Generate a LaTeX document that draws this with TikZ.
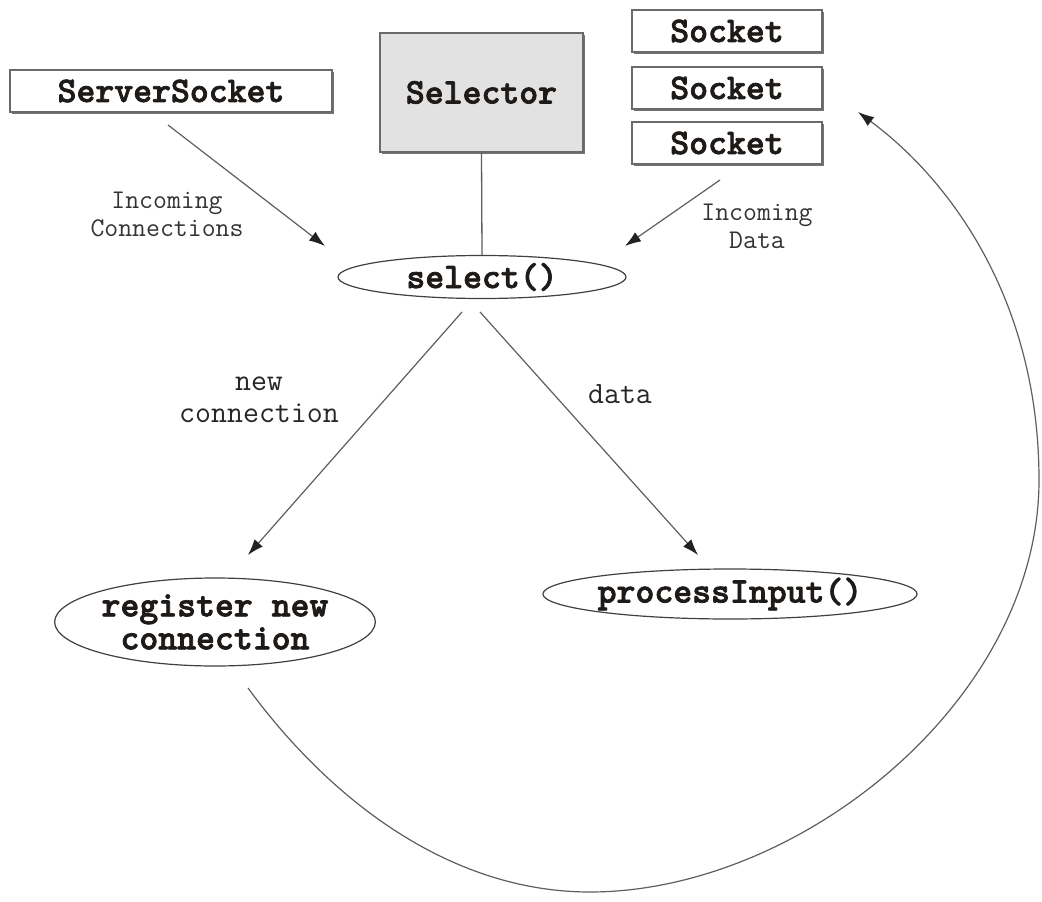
\documentclass[tikz,border=0pt]{standalone}
\usepackage{fontspec}
\usetikzlibrary{arrows.meta,shapes.geometric,shadows}

% heavy slab typewriter face for the boxes, plain one for the edge labels
\newfontfamily\heavytt[FakeBold=2]{lmmonolt10-bold.otf}
\newcommand\boxfont{\heavytt\fontsize{36}{36}\selectfont}
\newcommand\smallnote{\ttfamily\fontsize{27}{28}\selectfont}
\newcommand\edgenote{\ttfamily\fontsize{31}{32}\selectfont}

\definecolor{lineclr}{HTML}{5E5E5E}
\definecolor{tipclr}{HTML}{222222}
\definecolor{boxline}{HTML}{6A6A6A}
\definecolor{selfill}{HTML}{E2E2E2}
\definecolor{txtclr}{HTML}{1E1A18}

\begin{document}
\begin{tikzpicture}[x=1pt,y=-1pt,
  objbox/.style={draw=boxline, line width=1.3pt, fill=white, inner sep=0pt,
    font=\boxfont, text=txtclr,
    drop shadow={shadow xshift=1.6pt, shadow yshift=-1.6pt, fill=black!55, opacity=1}},
  callnode/.style={ellipse, draw=black!75, line width=1.2pt, fill=white, inner sep=0pt,
    font=\boxfont, text=txtclr, align=center},
  flow/.style={draw=lineclr, line width=1.2pt,
    -{Latex[length=16pt,width=11pt,color=tipclr]}},
  link/.style={draw=lineclr, line width=1.3pt},
  note/.style={font=\smallnote, text=black!80, align=center, inner sep=0pt},
  enote/.style={font=\edgenote, text=black!85, align=center, inner sep=0pt}
]
\useasboundingbox (0,0) rectangle (1042,902);

% sources of events
\node[objbox, minimum width=322pt, minimum height=42pt] (ss) at (171,91) {ServerSocket};
\node[objbox, fill=selfill, minimum width=203pt, minimum height=119pt] (sel) at (481.5,92.5) {Selector};
\node[objbox, minimum width=190pt, minimum height=42pt] (sk1) at (727,31) {Socket};
\node[objbox, minimum width=190pt, minimum height=42pt] (sk2) at (727,88) {Socket};
\node[objbox, minimum width=190pt, minimum height=42pt] (sk3) at (727,143) {Socket};

% the select loop
\node[callnode, minimum width=288pt, minimum height=43pt] (select) at (482,277) {select()};
\node[callnode, minimum width=270pt, minimum height=88pt,
  font=\heavytt\fontsize{36}{33}\selectfont]
  (reg) at (215,622) {register new\\connection};
\node[callnode, minimum width=350pt, minimum height=50pt] (proc) at (730,594) {processInput()};

% free ends of the arrows
\coordinate (ssOut)   at (168,125);
\coordinate (selInL)  at (325,246);
\coordinate (skOut)   at (720,180);
\coordinate (selInR)  at (625,246);
\coordinate (selOutL) at (462,312);
\coordinate (regIn)   at (248,555);
\coordinate (selOutR) at (480,312);
\coordinate (procIn)  at (698,555);
\coordinate (loopStart) at (248,688);
\coordinate (loopEnd)   at (858,112);

% connectors
\draw[link] (sel.south) -- (select.north);
\draw[flow] (ssOut) -- (selInL);
\draw[flow] (skOut) -- (selInR);
\draw[flow] (selOutL) -- (regIn);
\draw[flow] (selOutR) -- (procIn);
\draw[flow] (loopStart) .. controls (330,800) and (450,892) .. (590,892)
  .. controls (800,892) and (1039,700) .. (1039,480)
  .. controls (1039,300) and (950,180) .. (loopEnd);

% labels
\node[note] (lblConn) at (167,214) {Incoming\\Connections};
\node[note] (lblData) at (757,226) {Incoming\\Data};
\node[enote] (lblNew) at (259,400) {new\\connection};
\node[enote] (lblDat) at (620,394) {data};
\end{tikzpicture}
\end{document}
